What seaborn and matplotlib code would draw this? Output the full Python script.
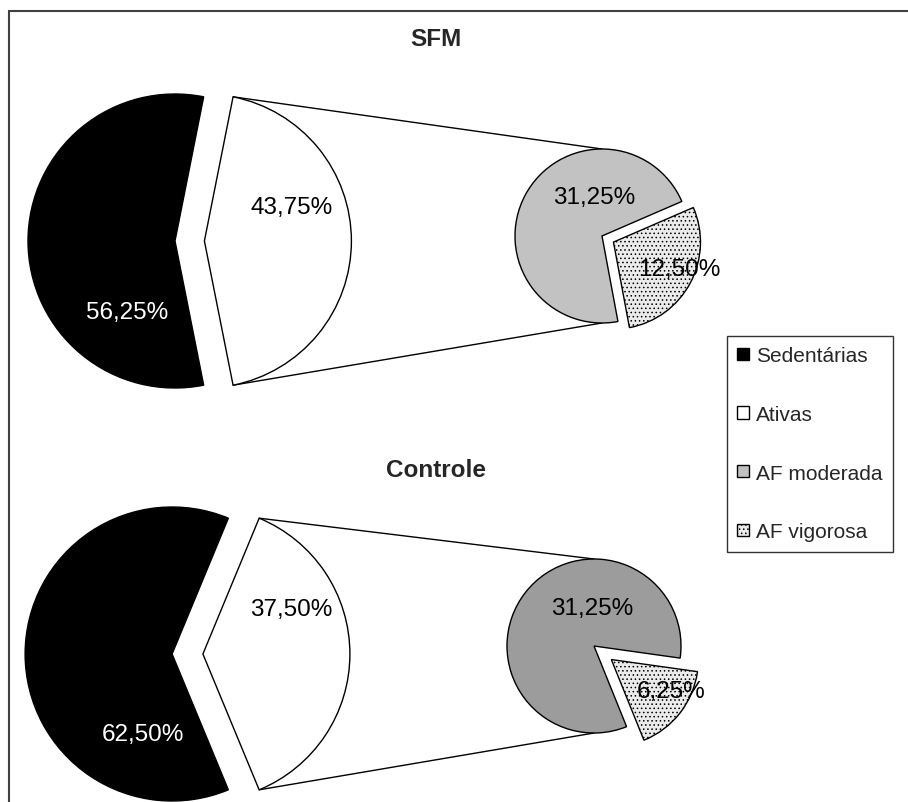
import numpy as np
import matplotlib
matplotlib.use("Agg")
import matplotlib.pyplot as plt
import seaborn as sns
from matplotlib.patches import Rectangle

# Physical activity level of the two groups (percent of women)
groups = ["SFM", "Controle"]
main_categories = ["Sedentárias", "Ativas"]
sub_categories = ["AF moderada", "AF vigorosa"]
sedentarias = [56.25, 62.50]
ativas = [43.75, 37.50]
af_moderada = [31.25, 31.25]
af_vigorosa = [12.50, 6.25]

sns.set_theme(style="white")
plt.rcParams["font.family"] = ["Liberation Sans", "DejaVu Sans"]
plt.rcParams["hatch.linewidth"] = 0.6

grays = sns.color_palette(["#000000", "#ffffff", "#c2c2c2", "#9c9c9c", "#ebebeb"])

W, H = 908, 803
fig = plt.figure(figsize=(W / 100, H / 100), dpi=100)
ax = fig.add_axes([0, 0, 1, 1])


def fmt(v):
    return f"{v:.2f}".replace(".", ",") + "%"


# layout of each panel (pixel units, y measured from the top)
main_center = [(189.7, 242), (187.5, 655)]
main_r = 147
main_explode = [14.7, 15.4]      # slice offset in pixels
sub_center = [(602, 237), (594, 647)]
sub_r = 87
sub_explode = [13, 22]
sub_mid_angle = [-28, -38]
mod_colors = [grays[2], grays[3]]
title_y = [40, 471]

# label anchors relative to the pie centres
main_label_off = [((-63, 71), (102, -34)), ((-45, 80), (104, -45))]
sub_label_off = [((-8, -39), (77, 33)), ((-2, -38), (77, 45))]

legend_handles = None
for i, g in enumerate(groups):
    cx, cy = main_center[i][0], H - main_center[i][1]
    sed, atv = sedentarias[i], ativas[i]
    start = 180 - sed * 3.6 / 2
    wedges, _ = ax.pie(
        [sed, atv], center=(cx, cy), radius=main_r, startangle=start,
        explode=[main_explode[i], main_explode[i]],
        colors=[grays[0], grays[1]],
        wedgeprops=dict(edgecolor="black", linewidth=1.0), frame=True,
    )

    sx, sy = sub_center[i][0], H - sub_center[i][1]
    mod, vig = af_moderada[i], af_vigorosa[i]
    vig_span = 360 * vig / (mod + vig)
    sub_wedges, _ = ax.pie(
        [vig, mod], center=(sx, sy), radius=sub_r,
        startangle=sub_mid_angle[i] - vig_span / 2,
        explode=[sub_explode[i], 0],
        colors=[grays[4], mod_colors[i]],
        wedgeprops=dict(edgecolor="black", linewidth=1.0), frame=True,
    )
    sub_wedges[0].set_hatch("....")

    # connector lines from the "Ativas" slice to the breakdown pie
    half = atv * 3.6 / 2
    apex_x = cx + main_explode[i]
    for sgn in (1, -1):
        vx = apex_x + main_r * np.cos(np.radians(half))
        vy = cy + sgn * main_r * np.sin(np.radians(half))
        ax.plot([vx, sx], [vy, sy + sgn * sub_r], color="black", lw=1.0,
                zorder=0.5)

    # slice labels
    (o1, o2) = main_label_off[i]
    ax.text(cx + o1[0], cy - o1[1], fmt(sed), color="white", fontsize=17.5,
            ha="center", va="center")
    ax.text(cx + o2[0], cy - o2[1], fmt(atv), color="black", fontsize=17.5,
            ha="center", va="center")
    (p1, p2) = sub_label_off[i]
    ax.text(sx + p1[0], sy - p1[1], fmt(mod), color="black", fontsize=17.5,
            ha="center", va="center")
    ax.text(sx + p2[0], sy - p2[1], fmt(vig), color="black", fontsize=17.5,
            ha="center", va="center")

    ax.text(436, H - title_y[i], g, fontsize=17.5, fontweight="bold",
            ha="center", va="center")

    if i == 0:
        legend_handles = [wedges[0], wedges[1], sub_wedges[1], sub_wedges[0]]

ax.set_xlim(0, W)
ax.set_ylim(0, H)
ax.set_aspect("equal")
ax.axis("off")

leg = ax.legend(
    legend_handles, main_categories + sub_categories,
    loc="upper left", bbox_to_anchor=(727 / W, 1 - 337 / H),
    bbox_transform=fig.transFigure, borderaxespad=0, borderpad=0.5,
    fontsize=15, handlelength=0.55, handleheight=0.55, handletextpad=0.35,
    labelspacing=1.9, fancybox=False, framealpha=1, edgecolor="#333333",
)
leg.get_frame().set_linewidth(1.0)

# outer chart-area border (left and top edges visible)
fig.patches.append(Rectangle((9 / W, -0.05), 1.1, 1 - 12 / H + 0.05,
                             transform=fig.transFigure, fill=False,
                             edgecolor="#404040", linewidth=1.5))

fig.savefig("out.png", dpi=100)
